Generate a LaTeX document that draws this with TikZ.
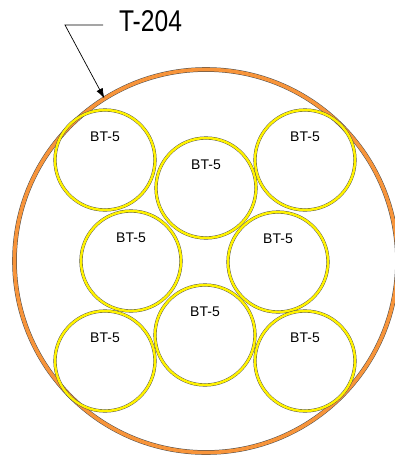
\documentclass[tikz,border=0pt]{standalone}
\usetikzlibrary{arrows.meta}
\usepackage{fontspec}
\setmainfont{Liberation Sans}
\definecolor{tankorange}{RGB}{247,148,58}
\definecolor{bottleyellow}{RGB}{255,242,0}
\begin{document}
\begin{tikzpicture}
    [
        x = 1pt, y = -1pt,
        tank/.style = {circle, inner sep = 0pt, minimum size = 383pt, draw = black!70, line width = 0.5pt, double = tankorange, double distance = 3.6pt},
        bottle/.style = {circle, inner sep = 0pt, minimum size = 100pt, draw = black!70, line width = 0.4pt, double = bottleyellow, double distance = 2.4pt},
        btname/.style = {font = \fontsize{14}{16}\selectfont, inner sep = 0pt},
        tankname/.style = {font = \fontsize{30}{32}\selectfont, inner sep = 0pt}
    ]
    \useasboundingbox (0,0) rectangle (395,458);
    \node [tank] (tank) at (206,261) {};
    \foreach \n/\x/\y in {1/105/160, 2/206/188, 3/305/160, 4/131/261, 5/278/262, 6/105/361, 7/205/335, 8/305/361}
    {
        \node [bottle] (bt\n) at (\x,\y) {};
        \node [btname] (name\n) at ([yshift = 23pt]bt\n.center) {BT-5};
    }
    \node [tankname] (tag) at (150.5,21) {\scalebox{0.82}[1]{T-204}};
    \coordinate (lead) at (103,25);
    \coordinate (bend) at (65,25);
    \draw [-{Latex[length=10pt, width=7pt]}, line width = 0.7pt] (lead) -- (bend) -- (tank.122);
\end{tikzpicture}
\end{document}
